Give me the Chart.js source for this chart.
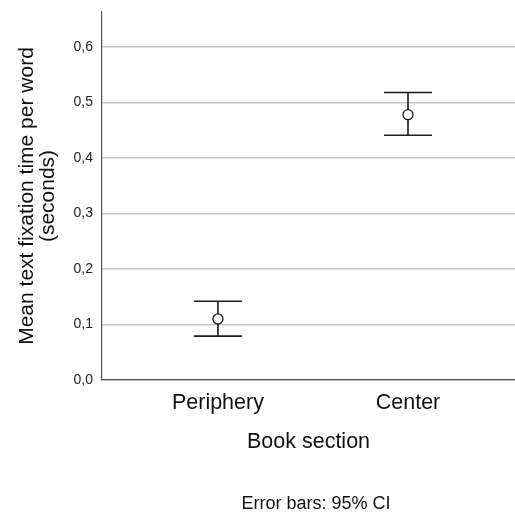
<!DOCTYPE html>
<html><head><meta charset="utf-8">
<script src="https://cdn.jsdelivr.net/npm/chart.js@4/dist/chart.umd.min.js"></script>
<style>html,body{margin:0;padding:0;background:#fff;overflow:hidden;}#wrap{position:relative;width:515px;height:518px;}canvas{display:block;}</style>
</head><body><div id="wrap"><canvas id="c" width="515" height="518"></canvas></div>
<script>
const categories = ["Periphery", "Center"];
const means = [0.110, 0.478];
const ciLower = [0.079, 0.441];
const ciUpper = [0.142, 0.518];
const yTicks = [0, 0.1, 0.2, 0.3, 0.4, 0.5, 0.6];
const yTitle = ["Mean text fixation time per word", "(seconds)"];
const xTitle = "Book section";
const footnote = "Error bars: 95% CI";

const FONT = "'Liberation Sans', Arial, sans-serif";

const errorBars = {
  id: 'errorBars',
  afterDatasetsDraw(chart) {
    const {ctx, scales: {x, y}} = chart;
    ctx.save();
    ctx.strokeStyle = '#1a1a1a';
    ctx.lineWidth = 1.6;
    const half = 24;
    categories.forEach((c, i) => {
      const px = x.getPixelForValue(i);
      const yu = y.getPixelForValue(ciUpper[i]);
      const yl = y.getPixelForValue(ciLower[i]);
      const ym = y.getPixelForValue(means[i]);
      ctx.beginPath();
      ctx.moveTo(px, yu); ctx.lineTo(px, ym - 5);
      ctx.moveTo(px, ym + 5); ctx.lineTo(px, yl);
      ctx.moveTo(px - half, yu); ctx.lineTo(px + half, yu);
      ctx.moveTo(px - half, yl); ctx.lineTo(px + half, yl);
      ctx.stroke();
    });
    ctx.restore();
  }
};

const footnotePlugin = {
  id: 'footnote',
  afterDraw(chart) {
    const {ctx} = chart;
    ctx.save();
    ctx.font = "18px " + FONT;
    ctx.fillStyle = '#111';
    ctx.textAlign = 'center';
    ctx.textBaseline = 'middle';
    ctx.fillText(footnote, 316, 504);
    ctx.restore();
  }
};

new Chart(document.getElementById('c'), {
  type: 'scatter',
  data: {
    datasets: [{
      data: categories.map((c, i) => ({x: i, y: means[i]})),
      pointRadius: 5,
      pointHoverRadius: 5,
      pointBackgroundColor: 'rgba(0,0,0,0)',
      pointBorderColor: '#1a1a1a',
      pointBorderWidth: 1.3,
      showLine: false,
      clip: false
    }]
  },
  options: {
    responsive: false,
    animation: false,
    events: [],
    layout: {autoPadding: false, padding: {top: 12, right: 0, left: 0, bottom: 63}},
    plugins: {legend: {display: false}, tooltip: {enabled: false}},
    scales: {
      x: {
        type: 'linear',
        min: -0.61,
        max: 1.563,
        afterBuildTicks: s => { s.ticks = categories.map((c, i) => ({value: i})); },
        afterFit: s => { s.height = 75; s.paddingLeft = 0; s.paddingRight = 0; },
        grid: {display: false, drawTicks: false},
        border: {display: true, color: '#555', width: 1.2},
        ticks: {
          padding: 10,
          color: '#111',
          font: {family: FONT, size: 21.5},
          callback: v => categories[v] ?? ''
        },
        title: {display: true, text: xTitle, color: '#111', font: {family: FONT, size: 21.5, lineHeight: 1.2}, padding: {top: 0, bottom: 0}}
      },
      y: {
        min: 0,
        max: 0.663,
        afterBuildTicks: s => { s.ticks = yTicks.map(v => ({value: v})); },
        afterFit: s => { s.width = 102; s.paddingTop = 0; s.paddingBottom = 0; s.paddingLeft = 0; s.paddingRight = 0; },
        grid: {color: '#c6c6c6', lineWidth: 1.5, drawTicks: false},
        border: {display: true, color: '#555', width: 1.2},
        ticks: {
          padding: 9,
          color: '#222',
          font: {family: FONT, size: 14},
          callback: v => v.toFixed(1).replace('.', ',')
        },
        title: {display: true, text: yTitle, color: '#111', font: {family: FONT, size: 21, lineHeight: 1.0}, padding: {top: 17, bottom: 0}}
      }
    }
  },
  plugins: [errorBars, footnotePlugin]
});
</script></body></html>
